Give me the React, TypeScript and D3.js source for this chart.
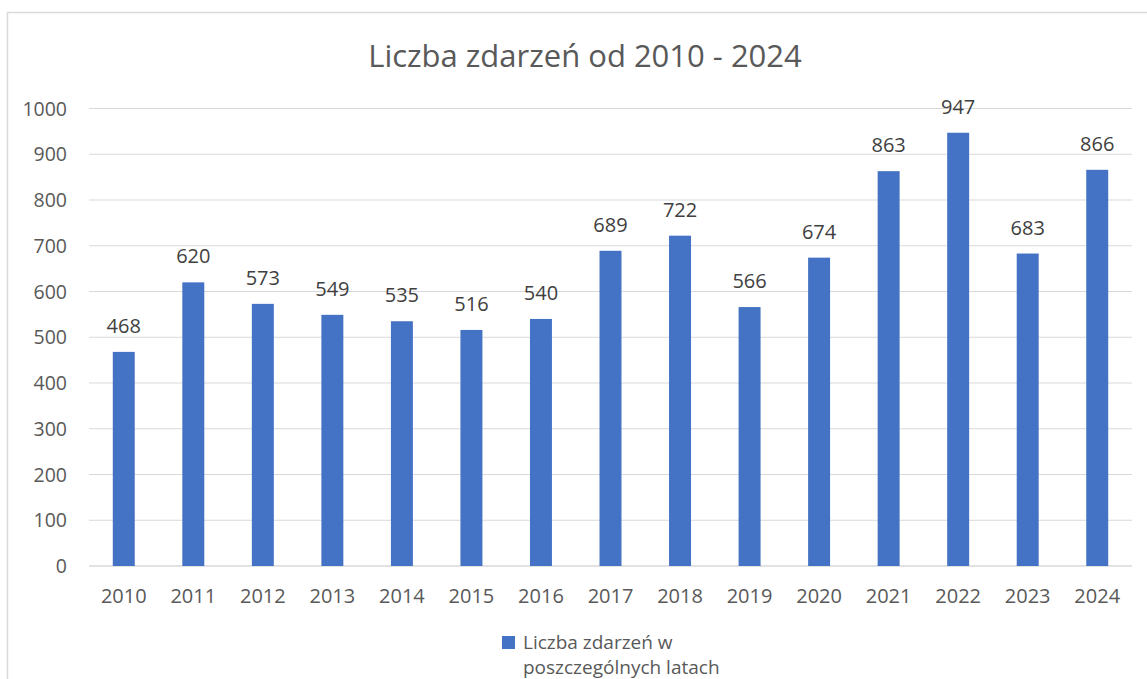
import * as d3 from 'd3';

const years = ['2010', '2011', '2012', '2013', '2014', '2015', '2016', '2017', '2018', '2019', '2020', '2021', '2022', '2023', '2024'];
const events = [468, 620, 573, 549, 535, 516, 540, 689, 722, 566, 674, 863, 947, 683, 866];
const yTicks = [0, 100, 200, 300, 400, 500, 600, 700, 800, 900, 1000];

const title = 'Liczba zdarzeń od 2010 - 2024';
const legendLines = ['Liczba zdarzeń w', 'poszczególnych latach'];

const W = 1147;
const H = 679;
const margin = { top: 108.5, right: 15, bottom: 113, left: 89 };
const font = '"Open Sans", "Liberation Sans", sans-serif';
const textColor = '#595959';
const barColor = '#4472C4';
const gridColor = '#d9d9d9';

export default function App() {
  const x = d3.scaleBand()
    .domain(years)
    .range([margin.left, W - margin.right])
    .paddingInner(0.684)
    .paddingOuter(0.342);

  const y = d3.scaleLinear()
    .domain([0, 1000])
    .range([H - margin.bottom, margin.top]);

  return (
    <svg width={W} height={H} style={{ position: 'absolute', left: 0, top: 0, background: '#fff' }}>
      {/* outer chart frame, runs off the page on right and bottom */}
      <rect x={7.5} y={12.5} width={W + 20} height={H + 20} fill="none" stroke={gridColor} strokeWidth={1.5} />

      <text x={585} y={67} textAnchor="middle" fontFamily={font} fontSize={31} fill={textColor}>{title}</text>

      {yTicks.map(t => (
        <g key={t}>
          <line x1={margin.left} x2={W - margin.right} y1={y(t)} y2={y(t)} stroke={gridColor} strokeWidth={t === 0 ? 1.5 : 1.2} />
          <text x={67} y={y(t) + 7} textAnchor="end" fontFamily={font} fontSize={19.5} fill={textColor}>{t}</text>
        </g>
      ))}

      {years.map((yr, i) => (
        <g key={yr}>
          <rect x={x(yr)} y={y(events[i])} width={x.bandwidth()} height={y(0) - y(events[i])} fill={barColor} />
          <text x={(x(yr) || 0) + x.bandwidth() / 2} y={y(events[i]) - 19} textAnchor="middle" fontFamily={font} fontSize={20} fill="#404040">{events[i]}</text>
          <text x={(x(yr) || 0) + x.bandwidth() / 2} y={603} textAnchor="middle" fontFamily={font} fontSize={20} fill={textColor}>{yr}</text>
        </g>
      ))}

      {/* legend */}
      <rect x={502} y={636} width={13} height={13} fill={barColor} />
      {legendLines.map((l, i) => (
        <text key={i} x={523} y={649 + i * 25} fontFamily={font} fontSize={19} fill={textColor}>{l}</text>
      ))}
    </svg>
  );
}
